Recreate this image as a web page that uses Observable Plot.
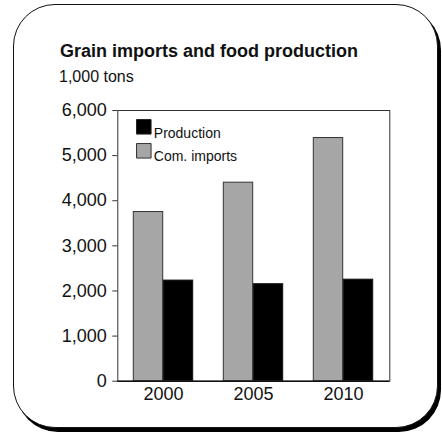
<!DOCTYPE html>
<html>
<head>
<meta charset="utf-8">
<script src="https://cdn.jsdelivr.net/npm/d3@7"></script>
<script src="https://cdn.jsdelivr.net/npm/@observablehq/plot@0.6"></script>
<style>
  html, body { margin: 0; padding: 0; background: #fff; }
  body { width: 442px; height: 434px; position: relative; overflow: hidden; font-family: "Liberation Sans", Arial, sans-serif; color: #111; }
  #card { position: absolute; left: 13px; top: 4px; width: 423px; height: 422px; border: 1.5px solid #111; border-radius: 42px; box-shadow: 3px 4px 0 #000; background: #fff; }
  #title { position: absolute; left: 60px; top: 42px; font-size: 18px; font-weight: bold; line-height: 1; white-space: nowrap; }
  #subtitle { position: absolute; left: 59px; top: 69px; font-size: 16px; line-height: 1; white-space: nowrap; }
  #chart { position: absolute; left: 0; top: 95px; }
</style>
</head>
<body>
<div id="card"></div>
<div id="title">Grain imports and food production</div>
<div id="subtitle">1,000 tons</div>
<div id="chart"></div>
<script>
const years = ["2000", "2005", "2010"];
const production = [2230, 2150, 2250];
const comImports = [3750, 4400, 5390];
const yTicks = [0, 1000, 2000, 3000, 4000, 5000, 6000];
const legendLabels = ["Production", "Com. imports"];

const importsData = years.map((y, i) => ({year: y, value: comImports[i]}));
const productionData = years.map((y, i) => ({year: y, value: production[i]}));

const chart = Plot.plot({
  width: 442,
  height: 320,
  marginLeft: 117.3,
  marginRight: 52.7,
  marginTop: 15,
  marginBottom: 34.3,
  style: {fontFamily: "Liberation Sans, Arial, sans-serif", color: "#111", background: "transparent"},
  x: {domain: years, padding: 0, label: null},
  y: {domain: [0, 6000], label: null},
  marks: [
    Plot.barY(importsData, {x: "year", y: "value", fill: "#a6a6a6", stroke: "#333", strokeWidth: 1, insetLeft: 15.3, insetRight: 45.3}),
    Plot.barY(productionData, {x: "year", y: "value", fill: "#000", stroke: "#111", strokeWidth: 1, insetLeft: 45.3, insetRight: 15.3}),
    Plot.frame({stroke: "#333", strokeWidth: 1}),
    Plot.ruleY([0], {stroke: "#111", strokeWidth: 1.5}),
    Plot.axisY({ticks: yTicks, tickFormat: d3.format(","), tickSize: 5, tickPadding: 6, fontSize: 18, label: null, stroke: "#333"}),
    Plot.axisX({tickSize: 0, tickPadding: 6, fontSize: 18, label: null}),
    Plot.dot([legendLabels[0]], {frameAnchor: "top-left", dx: 26, dy: 16.3, symbol: "square", r: 8.2, fill: "#000", stroke: "#222", strokeWidth: 1}),
    Plot.dot([legendLabels[1]], {frameAnchor: "top-left", dx: 26, dy: 40.3, symbol: "square", r: 8.2, fill: "#a6a6a6", stroke: "#333", strokeWidth: 1}),
    Plot.text([legendLabels[0]], {text: d => d, frameAnchor: "top-left", textAnchor: "start", dx: 36, dy: 17.2, fontSize: 14, fill: "#111"}),
    Plot.text([legendLabels[1]], {text: d => d, frameAnchor: "top-left", textAnchor: "start", dx: 36, dy: 40.5, fontSize: 14, fill: "#111"})
  ]
});
document.getElementById("chart").appendChild(chart);
</script>
</body>
</html>
